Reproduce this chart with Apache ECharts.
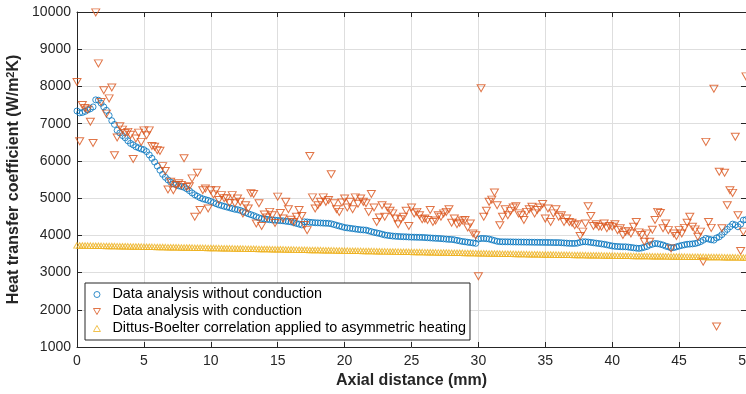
<!DOCTYPE html>
<html><head><meta charset="utf-8">
<script src="https://cdn.jsdelivr.net/npm/echarts@6/dist/echarts.min.js"></script>
<style>html,body{margin:0;padding:0;background:#fff}#c{width:746px;height:394px}</style>
</head><body><div id="c"></div>
<script>
// Axial positions: one sample every 0.2 mm from 0 to 50 mm
const xStepMm = 0.2;
const xMin = 0, xMax = 50, xInterval = 5;
const yMin = 1000, yMax = 10000, yInterval = 1000;

const seriesNames = [
  'Data analysis without conduction',
  'Data analysis with conduction',
  'Dittus-Boelter correlation applied to asymmetric heating'
];

// Heat transfer coefficient (W/m2K), data analysis without conduction
const hNoConduction = [
  7340,7290,7300,7330,7370, 7400,7450,7640,7630,7550,
  7450,7360,7220,7080,6980, 6820,6750,6680,6620,6540,
  6470,6430,6380,6350,6320, 6300,6250,6160,6070,5970,
  5860,5750,5640,5560,5490, 5430,5390,5360,5330,5310,
  5290,5250,5200,5140,5090, 5050,5010,4980,4960,4940,
  4910,4880,4850,4820,4800, 4780,4760,4740,4720,4700,
  4690,4670,4640,4610,4580, 4555,4530,4500,4470,4450,
  4440,4430,4420,4412,4408, 4400,4395,4390,4380,4370,
  4360,4340,4320,4300,4280, 4363,4360,4350,4345,4338,
  4335,4332,4328,4325,4322, 4310,4290,4270,4250,4230,
  4210,4200,4190,4180,4170, 4160,4150,4145,4140,4120,
  4100,4080,4065,4050,4030, 4010,4000,3990,3980,3975,
  3970,3965,3962,3960,3955, 3952,3950,3948,3946,3944,
  3940,3935,3930,3925,3920, 3917,3912,3905,3898,3892,
  3890,3880,3865,3850,3835, 3826,3815,3805,3795,3785,
  3900,3917,3915,3910,3900, 3880,3860,3840,3830,3826,
  3826,3825,3824,3822,3821, 3820,3819,3818,3817,3816,
  3815,3814,3813,3812,3811, 3810,3809,3808,3806,3805,
  3805,3800,3795,3790,3785, 3783,3783,3790,3810,3826,
  3826,3820,3810,3800,3790, 3780,3770,3760,3745,3730,
  3715,3705,3700,3695,3692, 3692,3685,3675,3665,3655,
  3649,3660,3680,3700,3740, 3760,3780,3775,3760,3740,
  3710,3690,3665,3670,3690, 3711,3730,3745,3760,3765,
  3770,3780,3800,3830,3870, 3917,3900,3880,3872,3930,
  3960,4020,4095,4160,4230, 4301,4280,4230,4300,4409,
  4420
];

// Heat transfer coefficient (W/m2K), data analysis with conduction
const hWithConduction = [
  8120,6530,7500,7420,7380, 7050,6480,9990,8620,7580,
  7900,7270,7680,7970,6150, 6630,6930,6840,6750,6780,
  6700,6050,6600,6760,6510, 6820,6690,6820,6400,6380,
  6290,6270,5860,5730,5230, 5440,5210,5350,5400,5350,
  6070,5300,5320,5530,4500, 5680,4680,5210,5260,4720,
  5210,5100,5210,4950,5080, 5000,4990,4870,5080,4860,
  4990,4900,4590,4810,4720, 5130,5110,4320,4860,4250,
  4560,4480,4630,4540,4330, 5040,4600,4450,4900,4700,
  4420,4360,4500,4680,4520, 4280,4140,6130,5020,4720,
  4810,4900,5020,4900,4950, 5640,4860,4700,4630,4880,
  4990,4750,4900,4700,5020, 4850,4990,4900,4860,4630,
  5110,4750,4360,4480,4810, 4500,4750,4660,4590,4450,
  4300,4430,4500,4660,4250, 4750,4590,4630,4540,4430,
  4450,4410,4680,4360,4400, 4540,4500,4590,4630,4700,
  4340,4450,4300,4340,4400, 4410,4210,4320,4050,4000,
  2900,7950,4500,4660,4900, 4960,5150,4810,4270,4500,
  4700,4540,4650,4750,4780, 4590,4540,4410,4630,4700,
  4770,4590,4680,4750,4840, 4450,4720,4360,4590,4700,
  4500,4540,4360,4450,4360, 4340,4270,4300,3980,4100,
  4320,4780,4520,4250,4300, 4230,4230,4320,4190,4250,
  4230,4300,4140,4190,4010, 4100,4120,4050,4230,4360,
  4080,4010,3830,4050,3830, 4150,4410,4630,4600,4190,
  4320,4140,3650,4050,3980, 4140,4050,4200,4340,4500,
  4230,4160,3960,4100,3290, 6510,4360,4200,7940,1550,
  5710,4190,5680,4810,5210, 5140,6650,4540,3580,4100,
  8270
];

// Dittus-Boelter correlation applied to asymmetric heating (W/m2K)
const hDittusBoelter = [
  3730,3729,3727,3726,3724, 3723,3722,3720,3719,3717,
  3716,3715,3713,3712,3710, 3709,3708,3706,3705,3703,
  3702,3701,3699,3698,3696, 3695,3694,3692,3691,3689,
  3688,3687,3685,3684,3682, 3681,3680,3678,3677,3675,
  3674,3673,3671,3670,3668, 3667,3666,3664,3663,3661,
  3660,3659,3657,3656,3654, 3653,3652,3650,3649,3647,
  3646,3645,3643,3642,3640, 3639,3638,3636,3635,3633,
  3632,3631,3629,3628,3626, 3625,3624,3622,3621,3619,
  3618,3617,3615,3614,3612, 3611,3610,3608,3607,3605,
  3604,3603,3601,3600,3598, 3597,3596,3594,3593,3591,
  3590,3589,3587,3586,3584, 3583,3582,3580,3579,3577,
  3576,3575,3573,3572,3570, 3569,3568,3566,3565,3563,
  3562,3561,3559,3558,3556, 3555,3554,3552,3551,3549,
  3548,3547,3545,3544,3542, 3541,3540,3538,3537,3535,
  3534,3533,3531,3530,3528, 3527,3526,3524,3523,3521,
  3520,3519,3517,3516,3514, 3513,3512,3510,3509,3507,
  3506,3505,3503,3502,3500, 3499,3498,3496,3495,3493,
  3492,3491,3490,3488,3487, 3486,3485,3484,3482,3481,
  3480,3479,3478,3476,3475, 3474,3473,3472,3470,3469,
  3468,3467,3466,3464,3463, 3462,3461,3460,3458,3457,
  3456,3455,3454,3452,3451, 3450,3449,3448,3447,3446,
  3445,3444,3443,3442,3441, 3440,3439,3438,3437,3436,
  3435,3434,3433,3432,3431, 3430,3429,3428,3427,3426,
  3425,3424,3423,3422,3421, 3420,3419,3418,3417,3416,
  3415,3414,3413,3412,3411, 3410,3409,3408,3407,3406,
  3405
];

const toPairs = arr => arr.map((v, i) => [+(i * xStepMm).toFixed(1), v]);

const AX = '#262626';
const FONT = 'Liberation Sans, Arial, Helvetica, sans-serif';
const downTri = 'path://M0,0L20,0L10,17.32Z';
const upTri = 'path://M10,0L20,17.32L0,17.32Z';

const chart = echarts.init(document.getElementById('c'), null, {renderer: 'canvas'});

const baseX = {
  type: 'value', min: xMin, max: xMax, interval: xInterval,
  axisLine: {show: true, onZero: false, lineStyle: {color: AX, width: 1}},
  axisTick: {show: true, inside: true, length: 5, lineStyle: {color: AX}},
  splitLine: {show: false}
};
const baseY = {
  type: 'value', min: yMin, max: yMax, interval: yInterval,
  axisLine: {show: true, onZero: false, lineStyle: {color: AX, width: 1}},
  axisTick: {show: true, inside: true, length: 5, lineStyle: {color: AX}},
  splitLine: {show: false}
};

const legendStyles = [
  {icon: 'circle', color: '#0072BD'},
  {icon: downTri, color: '#D95319'},
  {icon: upTri, color: '#EDB120'}
];

chart.setOption({
  animation: false,
  backgroundColor: '#fff',
  textStyle: {fontFamily: FONT},
  grid: {left: 77, right: 0, top: 12, bottom: 47, containLabel: false, outerBoundsMode: 'none'},
  xAxis: [
    Object.assign({}, baseX, {
      position: 'bottom',
      axisLabel: {color: AX, fontSize: 14, margin: 7, fontFamily: FONT, hideOverlap: false},
      splitLine: {show: true, lineStyle: {color: '#dedede', width: 1}},
      name: 'Axial distance (mm)', nameLocation: 'middle', nameGap: 26,
      nameTextStyle: {color: AX, fontSize: 16, fontWeight: 'bold', fontFamily: FONT}
    }),
    Object.assign({}, baseX, {position: 'top', axisLabel: {show: false}})
  ],
  yAxis: [
    Object.assign({}, baseY, {
      position: 'left',
      axisLabel: {color: AX, fontSize: 14, margin: 6, fontFamily: FONT, formatter: v => String(v)},
      splitLine: {show: true, lineStyle: {color: '#dedede', width: 1}},
      name: 'Heat transfer coefficient (W/m{sup|2}K)', nameLocation: 'middle', nameGap: 51,
      nameRotate: 90,
      nameTextStyle: {color: AX, fontSize: 16, fontWeight: 'bold', fontFamily: FONT,
        rich: {sup: {fontSize: 11, fontWeight: 'bold', color: AX, verticalAlign: 'top', lineHeight: 12, fontFamily: FONT}}}
    }),
    Object.assign({}, baseY, {position: 'right', axisLabel: {show: false}})
  ],
  legend: {
    show: true,
    orient: 'vertical',
    left: 85, top: 283,
    backgroundColor: '#fff',
    borderColor: AX, borderWidth: 1, borderRadius: 0,
    padding: [4, 4, 4, 8],
    itemGap: 2,
    itemWidth: 7, itemHeight: 6,
    textStyle: {color: '#000', fontSize: 14.4, fontFamily: FONT, lineHeight: 15, padding: [0, 0, 0, 7]},
    data: seriesNames.map((n, i) => ({
      name: n, icon: legendStyles[i].icon,
      itemStyle: {color: 'rgba(255,255,255,0)', borderColor: legendStyles[i].color, borderWidth: 1}
    })),
    selectedMode: false
  },
  series: [
    {
      name: seriesNames[0], type: 'scatter', xAxisIndex: 0, yAxisIndex: 0,
      data: toPairs(hNoConduction), symbol: 'circle', symbolSize: 6,
      itemStyle: {color: 'rgba(255,255,255,0)', borderColor: '#0072BD', borderWidth: 1},
      clip: false, silent: true, z: 2
    },
    {
      name: seriesNames[1], type: 'scatter', xAxisIndex: 0, yAxisIndex: 0,
      data: toPairs(hWithConduction), symbol: downTri, symbolSize: [8, 7],
      itemStyle: {color: 'rgba(255,255,255,0)', borderColor: '#D95319', borderWidth: 1},
      clip: false, silent: true, z: 3
    },
    {
      name: seriesNames[2], type: 'scatter', xAxisIndex: 0, yAxisIndex: 0,
      data: toPairs(hDittusBoelter), symbol: upTri, symbolSize: [6.5, 5.5],
      itemStyle: {color: 'rgba(255,255,255,0)', borderColor: '#EDB120', borderWidth: 1},
      clip: false, silent: true, z: 4
    }
  ]
});
</script>
</body></html>
